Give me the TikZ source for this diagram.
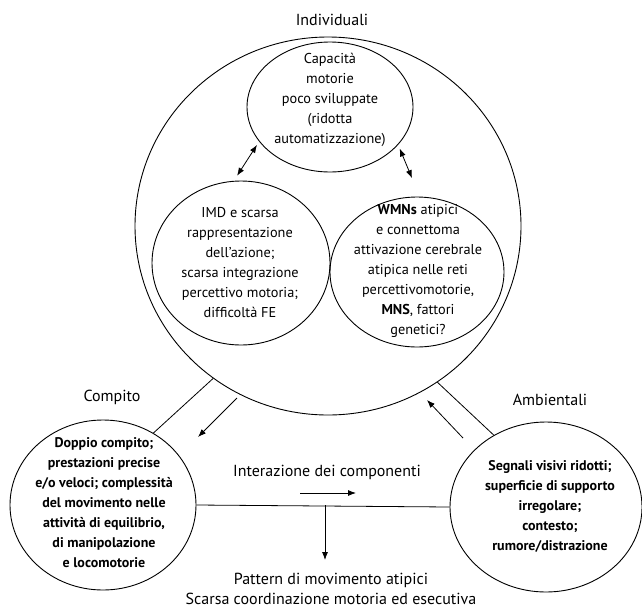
\documentclass[tikz,border=0pt]{standalone}
\usepackage{fontspec}
\setmainfont{PT Sans}
\usetikzlibrary{shapes.geometric,arrows.meta}

\tikzset{
  blob/.style={ellipse, draw, line width=0.9pt, inner sep=0pt},
  txt/.style={align=center, inner sep=0pt, font=\fontsize{16}{20}\selectfont},
  intxt/.style={align=center, inner sep=0pt, font=\fontsize{14.3}{20}\selectfont},
  boldtxt/.style={intxt, font=\fontsize{14}{20}\selectfont\bfseries},
  arr/.style={-{Latex[length=8pt,width=6pt]}, line width=0.8pt},
  darr/.style={{Latex[length=8pt,width=6pt]}-{Latex[length=8pt,width=6pt]}, line width=0.8pt},
}

\begin{document}
\begin{tikzpicture}[x=1pt,y=-1pt]
  \useasboundingbox (0,0) rectangle (642,608);

  % cerchio grande: Individuali
  \node[blob, minimum width=386, minimum height=378] (indiv) at (328,226) {};
  \node[txt] (lindiv) at (332,20) {Individuali};

  % fattori individuali
  \node[blob, minimum width=166, minimum height=130] (capac) at (330,107) {};
  \node[intxt] (tcapac) at (330,100) {Capacità\\motorie\\poco sviluppate\\(ridotta\\automatizzazione)};
  \node[blob, minimum width=178, minimum height=164] (imd) at (241,263) {};
  \node[intxt] (timd) at (240,263)
    {IMD e scarsa\\rappresentazione\\dell’azione;\\scarsa integrazione\\percettivo motoria;\\difficoltà FE};
  \node[blob, minimum width=174, minimum height=150] (wmn) at (417,272) {};
  \node[intxt] (twmn) at (418,271)
    {\textbf{WMNs} atipici\\e connettoma\\attivazione cerebrale\\atipica nelle reti\\percettivomotorie,\\\textbf{MNS}, fattori\\genetici?};

  % frecce doppie
  \draw[darr, shorten <=4pt, shorten >=6pt] (capac.206) -- (imd.95);
  \draw[darr, shorten <=4pt, shorten >=20pt] (capac.331) -- (wmn.88);

  % compito e ambiente
  \node[blob, minimum width=186, minimum height=170] (compito) at (103,505) {};
  \node[boldtxt] (tcompito) at (104,503)
    {Doppio compito;\\prestazioni precise\\e/o veloci; complessità\\del movimento nelle\\attività di equilibrio,\\di manipolazione\\e locomotorie};
  \node[txt] (lcompito) at (112,397) {Compito};
  \node[blob, minimum width=192, minimum height=170] (ambient) at (546,507) {};
  \node[boldtxt] (tambient) at (550,506)
    {Segnali visivi ridotti;\\superficie di supporto\\irregolare;\\contesto;\\rumore/distrazione};
  \node[txt] (lambient) at (550,400) {Ambientali};

  % collegamenti
  \draw[line width=0.8pt] (indiv.233) -- (compito.55);
  \draw[line width=0.8pt] (indiv.305) -- (ambient.126);
  \coordinate (ain) at (237,398);
  \coordinate (aout) at (198,437);
  \draw[arr] (ain) -- (aout);
  \coordinate (bin) at (463,438);
  \coordinate (bout) at (427,400);
  \draw[arr] (bin) -- (bout);

  % interazione
  \draw[line width=0.8pt] (compito.east) -- (ambient.west);
  \node[txt] (inter) at (327,472) {Interazione dei componenti};
  \coordinate (iin) at (300,493);
  \coordinate (iout) at (356,493);
  \draw[arr] (iin) -- (iout);

  % esito
  \node[txt] (esito) at (331,589) {Pattern di movimento atipici\\Scarsa coordinazione motoria ed esecutiva};
  \coordinate (split) at (325,505);
  \draw[arr, shorten >=13pt] (split) -- (split |- esito.north);
\end{tikzpicture}
\end{document}
